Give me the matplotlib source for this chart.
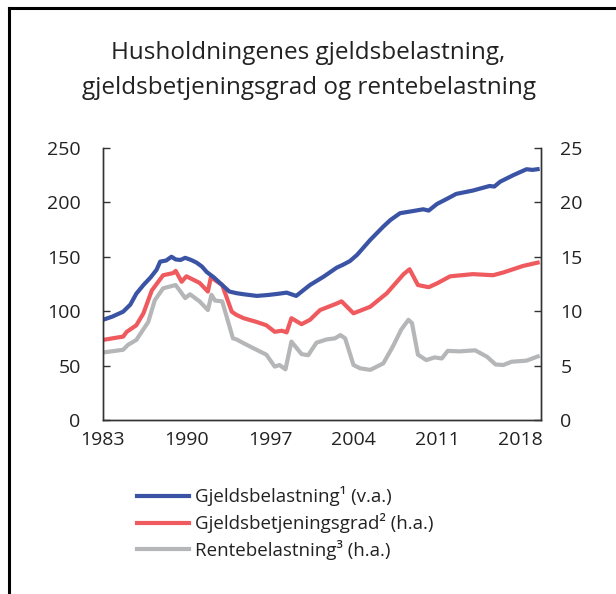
import matplotlib
matplotlib.use("Agg")
import matplotlib.pyplot as plt
from matplotlib.lines import Line2D
import numpy as np

plt.rcParams["font.family"] = ["Open Sans", "DejaVu Sans"]

# Gjeldsbelastning (venstre akse)
debt_years = [1983.0, 1983.8, 1984.7, 1985.3, 1985.8, 1986.4, 1987.0, 1987.5, 1987.8,
              1988.3, 1988.75, 1989.1, 1989.5, 1989.9, 1990.4, 1990.85, 1991.3, 1991.7,
              1992.3, 1992.8, 1993.6, 1994.2, 1994.8, 1995.9, 1996.8, 1997.6, 1998.4,
              1999.2, 2000.35, 2001.5, 2002.6, 2003.1, 2003.7, 2004.3, 2005.4, 2006.5,
              2007.1, 2007.9, 2009.0, 2009.85, 2010.3, 2011.0, 2011.8, 2012.6, 2014.0,
              2015.4, 2015.8, 2016.3, 2017.4, 2018.5, 2019.0, 2019.6]
debt = [92, 95, 99.5, 106, 116, 124, 131, 138, 145.5,
        146.5, 150, 147.5, 147, 149, 147, 144.6, 141, 136,
        131, 126, 118, 116.5, 115.5, 114, 114.8, 115.8, 117,
        114, 124, 131.7, 140, 142.5, 146, 151.7, 165.4, 177.7,
        183.8, 190, 192, 193.6, 192.4, 198.5, 203, 207.7, 210.8,
        215, 214.5, 219, 225, 230.4, 229.8, 230.7]

# Gjeldsbetjeningsgrad (hoyre akse)
service_years = [1983.0, 1983.8, 1984.7, 1985.0, 1985.8, 1986.4, 1987.1, 1988.05, 1988.9,
                 1989.1, 1989.6, 1990.0, 1991.1, 1991.8, 1992.05, 1993.0, 1993.8, 1994.2,
                 1994.8, 1995.9, 1996.7, 1997.4, 1998.0, 1998.4, 1998.8, 1999.65, 2000.35,
                 2001.2, 2002.6, 2003.0, 2004.0, 2005.4, 2006.8, 2008.2, 2008.7, 2009.4,
                 2010.3, 2011.0, 2012.1, 2014.0, 2015.7, 2016.55, 2018.2, 2019.6]
service = [7.35, 7.5, 7.66, 8.1, 8.7, 9.8, 11.9, 13.3, 13.5,
           13.7, 12.7, 13.2, 12.6, 11.8, 13.1, 12.4, 9.95, 9.65,
           9.35, 9.0, 8.7, 8.1, 8.2, 8.05, 9.35, 8.8, 9.2,
           10.1, 10.7, 10.9, 9.8, 10.4, 11.65, 13.4, 13.85, 12.4,
           12.2, 12.55, 13.2, 13.4, 13.3, 13.55, 14.15, 14.5]

# Rentebelastning (hoyre akse)
interest_years = [1983.0, 1984.7, 1985.1, 1985.8, 1986.8, 1987.35, 1988.05, 1989.1, 1989.9,
                  1990.3, 1991.1, 1991.8, 1992.1, 1992.4, 1993.0, 1993.9, 1994.2, 1994.8,
                  1995.6, 1996.7, 1997.4, 1997.8, 1998.3, 1998.8, 1999.65, 2000.2, 2000.9,
                  2001.75, 2002.45, 2002.9, 2003.3, 2004.0, 2004.55, 2005.4, 2006.5, 2007.3,
                  2008.0, 2008.6, 2008.9, 2009.4, 2010.1, 2010.8, 2011.4, 2011.9, 2012.9,
                  2013.5, 2014.2, 2015.2, 2015.9, 2016.55, 2017.25, 2018.5, 2019.6]
interest = [6.2, 6.45, 6.9, 7.35, 9.0, 11.0, 12.1, 12.4, 11.2,
            11.55, 10.9, 10.1, 11.5, 10.97, 10.9, 7.5, 7.4, 7.05,
            6.6, 6.0, 4.9, 5.05, 4.65, 7.2, 6.05, 5.95, 7.1,
            7.4, 7.5, 7.8, 7.5, 5.05, 4.75, 4.6, 5.2, 6.75,
            8.3, 9.2, 8.9, 6.0, 5.5, 5.75, 5.65, 6.35, 6.3,
            6.35, 6.4, 5.8, 5.1, 5.05, 5.35, 5.45, 5.9]

x_ticks = [1983, 1990, 1997, 2004, 2011, 2018]
left_ticks = [0, 50, 100, 150, 200, 250]
right_ticks = [0, 5, 10, 15, 20, 25]

labels = ["Gjeldsbelastning¹ (v.a.)",
          "Gjeldsbetjeningsgrad² (h.a.)",
          "Rentebelastning³ (h.a.)"]
colors = ["#3a53a4", "#ef5a5f", "#b5b6b8"]

fig = plt.figure(figsize=(6.16, 5.94), dpi=100)
ax = fig.add_axes([0.167, 0.293, 0.711, 0.458])
ax2 = ax.twinx()

ax2.plot(interest_years, interest, color=colors[2], lw=3.0, solid_capstyle="butt")
ax2.plot(service_years, service, color=colors[1], lw=3.0, solid_capstyle="butt")
ax.plot(debt_years, debt, color=colors[0], lw=3.0, solid_capstyle="butt")
ax.set_zorder(ax2.get_zorder() + 1)
ax.patch.set_visible(False)

spine_col = "#333333"
for a in (ax, ax2):
    a.set_xlim(1983, 2019.7)
    a.spines["top"].set_visible(False)
    for s in ("left", "right", "bottom"):
        a.spines[s].set_color(spine_col)
        a.spines[s].set_linewidth(1.0)

ax.set_ylim(0, 250)
ax2.set_ylim(0, 25)
ax.set_yticks(left_ticks)
ax2.set_yticks(right_ticks)
ax.set_xticks(x_ticks)
ax.tick_params(axis="y", direction="in", length=5, width=1, color=spine_col,
               labelsize=14, labelcolor="#222222", pad=16)
ax2.tick_params(axis="y", direction="in", length=5, width=1, color=spine_col,
                labelsize=14, labelcolor="#222222", pad=14)
ax.tick_params(axis="x", length=0, labelsize=14, labelcolor="#222222", pad=8)

fig.text(0.501, 0.911, "Husholdningenes gjeldsbelastning,", ha="center", va="center",
         fontsize=17.5, color="#222222")
fig.text(0.501, 0.852, "gjeldsbetjeningsgrad og rentebelastning", ha="center", va="center",
         fontsize=17.5, color="#222222")

handles = [Line2D([], [], color=c, lw=3.0) for c in colors]
fig.legend(handles, labels, loc="upper left", bbox_to_anchor=(0.222, 0.181),
           frameon=False, fontsize=13.5, handlelength=2.8, handletextpad=0.28,
           labelspacing=0.36, borderaxespad=0, borderpad=0, labelcolor="#222222")

# ramme oppe og til venstre
fig.add_artist(Line2D([0.015, 0.015], [0.0, 0.987], transform=fig.transFigure,
                      color="black", lw=2.2))
fig.add_artist(Line2D([0.015, 1.0], [0.987, 0.987], transform=fig.transFigure,
                      color="black", lw=2.2))

fig.savefig("out.png", dpi=100)
